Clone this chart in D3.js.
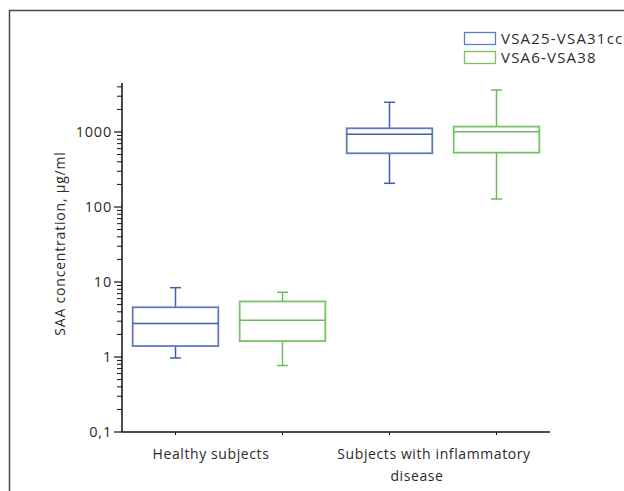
<!DOCTYPE html>
<html><head><meta charset="utf-8">
<script src="https://cdn.jsdelivr.net/npm/d3@7"></script>
<style>body{margin:0;background:#fff}svg{display:block}text{font-family:"Open Sans",sans-serif;fill:#2a2a2a}</style>
</head><body>
<script>
// ---- data ----
const groups = ["Healthy subjects", "Subjects with inflammatory disease"];
const series = ["VSA25-VSA31cc", "VSA6-VSA38"];
// [whiskerLow, q1, median, q3, whiskerHigh] per group
const vsa25 = [[0.97, 1.40, 2.8, 4.6, 8.4], [207, 520, 930, 1120, 2490]];
const vsa6  = [[0.77, 1.63, 3.1, 5.5, 7.3], [128, 530, 1010, 1180, 3630]];
const yTicks = [0.1, 1, 10, 100, 1000];
const yDomain = [0.1, 4500];
const yLabel = "SAA concentration, µg/ml";
const groupLabelLines = [["Healthy subjects"], ["Subjects with inflammatory", "disease"]];

(function () {
const colors = {"VSA25-VSA31cc": "#3f61a8", "VSA6-VSA38": "#6dba5b"};
const boxColors = {"VSA25-VSA31cc": "#5d7dbd", "VSA6-VSA38": "#79c267"};

const W = 624, H = 491;
const svg = d3.select("body").append("svg").attr("width", W).attr("height", H);

// frame
svg.append("rect").attr("x", 9.5).attr("y", 10.5).attr("width", 700).attr("height", 600)
  .attr("fill", "none").attr("stroke", "#4a4a4a").attr("stroke-width", 1.5);

const pL = 122, pR = 550, pT = 83, pB = 432;
const y = d3.scaleLog().domain(yDomain).range([pB, pT]);
const x0 = d3.scaleBand().domain(groups).range([pL, pR]).padding(0);
const x1 = d3.scaleBand().domain(series).range([0, x0.bandwidth()]).padding(0);
const boxW = x1.bandwidth() * 0.8;
const capW = 11;

// y axis with minor ticks
const minor = [];
for (let e = -1; e <= 3; e++) for (let m = 2; m <= 9; m++) { const v = m * Math.pow(10, e); if (v <= yDomain[1]) minor.push(v); }
const yg = svg.append("g").attr("transform", `translate(${pL},0)`);
yg.append("line").attr("x1", 0).attr("x2", 0).attr("y1", pT).attr("y2", pB).attr("stroke", "#111").attr("stroke-width", 1.5);
yg.selectAll(".minor").data(minor).join("line").attr("x1", -5).attr("x2", 0)
  .attr("y1", d => y(d)).attr("y2", d => y(d)).attr("stroke", "#111").attr("stroke-width", 1);
yg.selectAll(".major").data(yTicks).join("line").attr("x1", -8).attr("x2", 0)
  .attr("y1", d => y(d)).attr("y2", d => y(d)).attr("stroke", "#111").attr("stroke-width", 1.2);
yg.selectAll(".tl").data(yTicks).join("text").attr("x", -10).attr("y", d => y(d)).attr("dy", "0.35em")
  .attr("text-anchor", "end").style("font-size", "14.5px").style("letter-spacing", "0.8px")
  .text(d => String(d).replace(".", ","));

// x axis
const xg = svg.append("g");
xg.append("line").attr("x1", pL).attr("x2", pR).attr("y1", pB).attr("y2", pB).attr("stroke", "#111").attr("stroke-width", 1.5);
const centers = [];
groups.forEach(g => series.forEach(s => centers.push(x0(g) + x1(s) + x1.bandwidth() / 2)));
xg.selectAll(".xt").data(centers).join("line").attr("x1", d => d).attr("x2", d => d)
  .attr("y1", pB).attr("y2", pB + 3).attr("stroke", "#111").attr("stroke-width", 1);

// group labels
const labelShift = [-18, -9];
groups.forEach((g, i) => {
  const lines = groupLabelLines[i];
  const cx = x0(g) + x0.bandwidth() / 2 + labelShift[i];
  lines.forEach((t, j) => {
    svg.append("text").attr("x", j === 0 ? cx : cx - 17).attr("y", 459 + j * 22).attr("text-anchor", "middle")
      .style("font-size", "14px").style("letter-spacing", "0.6px").text(t);
  });
});

// y label
svg.append("text").attr("transform", `translate(65,${(pT + pB) / 2 - 14}) rotate(-90)`)
  .attr("text-anchor", "middle").style("font-size", "14px").style("letter-spacing", "0.8px").text(yLabel);

// boxes
const dataBy = {"VSA25-VSA31cc": vsa25, "VSA6-VSA38": vsa6};
groups.forEach((g, gi) => series.forEach(s => {
  const [lo, q1, med, q3, hi] = dataBy[s][gi];
  const cx = x0(g) + x1(s) + x1.bandwidth() / 2;
  const c = colors[s], bc = boxColors[s];
  const bg = svg.append("g");
  bg.append("line").attr("x1", cx).attr("x2", cx).attr("y1", y(hi)).attr("y2", y(q3)).attr("stroke", c).attr("stroke-width", 1.5);
  bg.append("line").attr("x1", cx).attr("x2", cx).attr("y1", y(q1)).attr("y2", y(lo)).attr("stroke", c).attr("stroke-width", 1.5);
  [hi, lo].forEach(v => bg.append("line").attr("x1", cx - capW / 2).attr("x2", cx + capW / 2)
    .attr("y1", y(v)).attr("y2", y(v)).attr("stroke", c).attr("stroke-width", 1.5));
  bg.append("rect").attr("x", cx - boxW / 2).attr("y", y(q3)).attr("width", boxW).attr("height", y(q1) - y(q3))
    .attr("fill", "none").attr("stroke", bc).attr("stroke-width", 1.8);
  bg.append("line").attr("x1", cx - boxW / 2).attr("x2", cx + boxW / 2).attr("y1", y(med)).attr("y2", y(med))
    .attr("stroke", c).attr("stroke-width", 1.5);
}));

// legend
const lg = svg.append("g");
series.forEach((s, i) => {
  lg.append("rect").attr("x", 464.5).attr("y", 32.5 + i * 19).attr("width", 31).attr("height", 12)
    .attr("fill", "none").attr("stroke", boxColors[s]).attr("stroke-width", 1.3);
  lg.append("text").attr("x", 501).attr("y", 38.5 + i * 19).attr("dy", "0.35em").style("font-size", "15px")
    .style("letter-spacing", "1.2px").text(s);
});
})();
</script>
</body></html>
